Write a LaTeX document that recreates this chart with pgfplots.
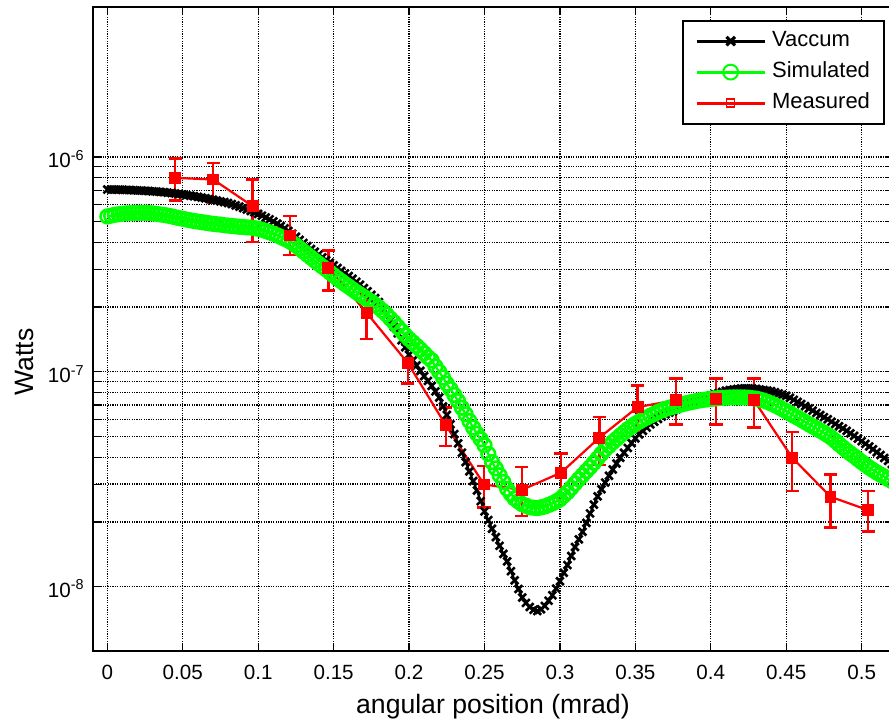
\documentclass[border=0pt]{standalone}
\usepackage{pgfplots}
\usepackage{pgfplotstable}
\pgfplotsset{compat=1.18}
\usepackage{fontspec}
\setmainfont{Liberation Sans}
\usetikzlibrary{calc}

\pgfplotstableread{
x y
0.0000 7.05e-7
0.0025 7.05e-7
0.0050 7.05e-7
0.0075 7.04e-7
0.0100 7.03e-7
0.0125 7.02e-7
0.0150 7.01e-7
0.0175 7.00e-7
0.0200 6.98e-7
0.0225 6.97e-7
0.0250 6.95e-7
0.0275 6.94e-7
0.0300 6.92e-7
0.0325 6.90e-7
0.0350 6.88e-7
0.0375 6.85e-7
0.0400 6.82e-7
0.0425 6.79e-7
0.0450 6.76e-7
0.0475 6.72e-7
0.0500 6.68e-7
0.0525 6.64e-7
0.0550 6.60e-7
0.0575 6.56e-7
0.0600 6.52e-7
0.0625 6.47e-7
0.0650 6.42e-7
0.0675 6.37e-7
0.0700 6.32e-7
0.0725 6.27e-7
0.0750 6.21e-7
0.0775 6.16e-7
0.0800 6.10e-7
0.0825 6.03e-7
0.0850 5.95e-7
0.0875 5.87e-7
0.0900 5.78e-7
0.0925 5.69e-7
0.0950 5.60e-7
0.0975 5.52e-7
0.1000 5.43e-7
0.1025 5.33e-7
0.1050 5.22e-7
0.1075 5.12e-7
0.1100 5.01e-7
0.1125 4.89e-7
0.1150 4.77e-7
0.1175 4.65e-7
0.1200 4.52e-7
0.1225 4.39e-7
0.1250 4.25e-7
0.1275 4.11e-7
0.1300 3.98e-7
0.1325 3.85e-7
0.1350 3.73e-7
0.1375 3.62e-7
0.1400 3.51e-7
0.1425 3.41e-7
0.1450 3.31e-7
0.1475 3.22e-7
0.1500 3.13e-7
0.1525 3.04e-7
0.1550 2.95e-7
0.1575 2.87e-7
0.1600 2.79e-7
0.1625 2.71e-7
0.1650 2.62e-7
0.1675 2.54e-7
0.1700 2.45e-7
0.1725 2.37e-7
0.1750 2.28e-7
0.1775 2.20e-7
0.1800 2.11e-7
0.1825 1.98e-7
0.1850 1.85e-7
0.1875 1.73e-7
0.1900 1.62e-7
0.1925 1.51e-7
0.1950 1.40e-7
0.1975 1.30e-7
0.2000 1.20e-7
0.2025 1.13e-7
0.2050 1.07e-7
0.2075 1.01e-7
0.2100 0.955e-7
0.2125 0.906e-7
0.2150 0.860e-7
0.2175 0.810e-7
0.2200 0.759e-7
0.2225 0.690e-7
0.2250 0.630e-7
0.2275 0.570e-7
0.2300 0.513e-7
0.2325 0.464e-7
0.2350 0.420e-7
0.2375 0.380e-7
0.2400 0.344e-7
0.2425 0.310e-7
0.2450 0.280e-7
0.2475 0.250e-7
0.2500 0.224e-7
0.2525 0.204e-7
0.2550 0.186e-7
0.2575 0.170e-7
0.2600 0.155e-7
0.2625 0.142e-7
0.2650 0.131e-7
0.2675 0.118e-7
0.2700 0.107e-7
0.2725 0.0975e-7
0.2750 0.0890e-7
0.2775 0.0840e-7
0.2800 0.0804e-7
0.2825 0.0780e-7
0.2850 0.0770e-7
0.2875 0.0785e-7
0.2900 0.0813e-7
0.2925 0.0860e-7
0.2950 0.0912e-7
0.2975 0.0980e-7
0.3000 0.106e-7
0.3025 0.116e-7
0.3050 0.126e-7
0.3075 0.139e-7
0.3100 0.153e-7
0.3125 0.166e-7
0.3150 0.180e-7
0.3175 0.198e-7
0.3200 0.219e-7
0.3225 0.241e-7
0.3250 0.263e-7
0.3275 0.284e-7
0.3300 0.305e-7
0.3325 0.328e-7
0.3350 0.351e-7
0.3375 0.374e-7
0.3400 0.398e-7
0.3425 0.420e-7
0.3450 0.442e-7
0.3475 0.466e-7
0.3500 0.490e-7
0.3525 0.511e-7
0.3550 0.531e-7
0.3575 0.550e-7
0.3600 0.569e-7
0.3625 0.586e-7
0.3650 0.603e-7
0.3675 0.619e-7
0.3700 0.634e-7
0.3725 0.645e-7
0.3750 0.655e-7
0.3775 0.670e-7
0.3800 0.684e-7
0.3825 0.695e-7
0.3850 0.705e-7
0.3875 0.717e-7
0.3900 0.729e-7
0.3925 0.740e-7
0.3950 0.750e-7
0.3975 0.763e-7
0.4000 0.776e-7
0.4025 0.786e-7
0.4050 0.795e-7
0.4075 0.806e-7
0.4100 0.817e-7
0.4125 0.822e-7
0.4150 0.827e-7
0.4175 0.832e-7
0.4200 0.836e-7
0.4225 0.837e-7
0.4250 0.837e-7
0.4275 0.835e-7
0.4300 0.832e-7
0.4325 0.827e-7
0.4350 0.822e-7
0.4375 0.818e-7
0.4400 0.813e-7
0.4425 0.803e-7
0.4450 0.793e-7
0.4475 0.783e-7
0.4500 0.773e-7
0.4525 0.757e-7
0.4550 0.740e-7
0.4575 0.724e-7
0.4600 0.708e-7
0.4625 0.692e-7
0.4650 0.675e-7
0.4675 0.659e-7
0.4700 0.643e-7
0.4725 0.629e-7
0.4750 0.615e-7
0.4775 0.601e-7
0.4800 0.586e-7
0.4825 0.572e-7
0.4850 0.558e-7
0.4875 0.545e-7
0.4900 0.531e-7
0.4925 0.517e-7
0.4950 0.503e-7
0.4975 0.489e-7
0.5000 0.475e-7
0.5025 0.462e-7
0.5050 0.449e-7
0.5075 0.436e-7
0.5100 0.422e-7
0.5125 0.410e-7
0.5150 0.397e-7
0.5175 0.385e-7
0.5200 0.372e-7
}\vacuum

\pgfplotstableread{
x y
0.0000 5.28e-7
0.0025 5.33e-7
0.0050 5.38e-7
0.0075 5.41e-7
0.0100 5.44e-7
0.0125 5.46e-7
0.0150 5.47e-7
0.0175 5.48e-7
0.0200 5.49e-7
0.0225 5.49e-7
0.0250 5.49e-7
0.0275 5.48e-7
0.0300 5.46e-7
0.0325 5.43e-7
0.0350 5.40e-7
0.0375 5.37e-7
0.0400 5.33e-7
0.0425 5.29e-7
0.0450 5.24e-7
0.0475 5.19e-7
0.0500 5.15e-7
0.0525 5.11e-7
0.0550 5.07e-7
0.0575 5.03e-7
0.0600 5.00e-7
0.0625 4.97e-7
0.0650 4.94e-7
0.0675 4.91e-7
0.0700 4.88e-7
0.0725 4.86e-7
0.0750 4.84e-7
0.0775 4.81e-7
0.0800 4.79e-7
0.0825 4.77e-7
0.0850 4.75e-7
0.0875 4.73e-7
0.0900 4.72e-7
0.0925 4.70e-7
0.0950 4.69e-7
0.0975 4.66e-7
0.1000 4.63e-7
0.1025 4.58e-7
0.1050 4.52e-7
0.1075 4.46e-7
0.1100 4.39e-7
0.1125 4.32e-7
0.1150 4.24e-7
0.1175 4.16e-7
0.1200 4.08e-7
0.1225 3.98e-7
0.1250 3.87e-7
0.1275 3.75e-7
0.1300 3.63e-7
0.1325 3.51e-7
0.1350 3.40e-7
0.1375 3.29e-7
0.1400 3.19e-7
0.1425 3.09e-7
0.1450 3.00e-7
0.1475 2.90e-7
0.1500 2.81e-7
0.1525 2.72e-7
0.1550 2.64e-7
0.1575 2.56e-7
0.1600 2.49e-7
0.1625 2.42e-7
0.1650 2.35e-7
0.1675 2.29e-7
0.1700 2.23e-7
0.1725 2.17e-7
0.1750 2.12e-7
0.1775 2.05e-7
0.1800 1.99e-7
0.1825 1.92e-7
0.1850 1.85e-7
0.1875 1.77e-7
0.1900 1.70e-7
0.1925 1.62e-7
0.1950 1.55e-7
0.1975 1.48e-7
0.2000 1.42e-7
0.2025 1.37e-7
0.2050 1.32e-7
0.2075 1.27e-7
0.2100 1.22e-7
0.2125 1.17e-7
0.2150 1.13e-7
0.2175 1.06e-7
0.2200 1.00e-7
0.2225 0.940e-7
0.2250 0.880e-7
0.2275 0.830e-7
0.2300 0.780e-7
0.2325 0.730e-7
0.2350 0.680e-7
0.2375 0.635e-7
0.2400 0.590e-7
0.2425 0.550e-7
0.2450 0.515e-7
0.2475 0.485e-7
0.2500 0.455e-7
0.2525 0.415e-7
0.2550 0.380e-7
0.2575 0.355e-7
0.2600 0.330e-7
0.2625 0.307e-7
0.2650 0.285e-7
0.2675 0.270e-7
0.2700 0.257e-7
0.2725 0.249e-7
0.2750 0.242e-7
0.2775 0.238e-7
0.2800 0.234e-7
0.2825 0.233e-7
0.2850 0.232e-7
0.2875 0.234e-7
0.2900 0.236e-7
0.2925 0.240e-7
0.2950 0.244e-7
0.2975 0.249e-7
0.3000 0.255e-7
0.3025 0.265e-7
0.3050 0.275e-7
0.3075 0.288e-7
0.3100 0.302e-7
0.3125 0.316e-7
0.3150 0.330e-7
0.3175 0.345e-7
0.3200 0.360e-7
0.3225 0.377e-7
0.3250 0.395e-7
0.3275 0.415e-7
0.3300 0.435e-7
0.3325 0.452e-7
0.3350 0.470e-7
0.3375 0.487e-7
0.3400 0.505e-7
0.3425 0.522e-7
0.3450 0.540e-7
0.3475 0.556e-7
0.3500 0.572e-7
0.3525 0.586e-7
0.3550 0.600e-7
0.3575 0.612e-7
0.3600 0.625e-7
0.3625 0.637e-7
0.3650 0.650e-7
0.3675 0.661e-7
0.3700 0.672e-7
0.3725 0.680e-7
0.3750 0.688e-7
0.3775 0.695e-7
0.3800 0.703e-7
0.3825 0.710e-7
0.3850 0.717e-7
0.3875 0.723e-7
0.3900 0.730e-7
0.3925 0.735e-7
0.3950 0.740e-7
0.3975 0.744e-7
0.4000 0.748e-7
0.4025 0.751e-7
0.4050 0.754e-7
0.4075 0.756e-7
0.4100 0.758e-7
0.4125 0.759e-7
0.4150 0.760e-7
0.4175 0.760e-7
0.4200 0.760e-7
0.4225 0.759e-7
0.4250 0.758e-7
0.4275 0.754e-7
0.4300 0.750e-7
0.4325 0.743e-7
0.4350 0.735e-7
0.4375 0.724e-7
0.4400 0.712e-7
0.4425 0.699e-7
0.4450 0.685e-7
0.4475 0.670e-7
0.4500 0.655e-7
0.4525 0.640e-7
0.4550 0.625e-7
0.4575 0.612e-7
0.4600 0.598e-7
0.4625 0.584e-7
0.4650 0.570e-7
0.4675 0.557e-7
0.4700 0.545e-7
0.4725 0.532e-7
0.4750 0.520e-7
0.4775 0.507e-7
0.4800 0.493e-7
0.4825 0.477e-7
0.4850 0.460e-7
0.4875 0.445e-7
0.4900 0.430e-7
0.4925 0.417e-7
0.4950 0.405e-7
0.4975 0.392e-7
0.5000 0.380e-7
0.5025 0.369e-7
0.5050 0.358e-7
0.5075 0.349e-7
0.5100 0.340e-7
0.5125 0.332e-7
0.5150 0.325e-7
0.5175 0.317e-7
0.5200 0.310e-7
}\simulated

\pgfplotstableread{
x y ep em
0.0450 7.99e-7 1.84e-7 1.72e-7
0.0702 7.85e-7 1.53e-7 1.70e-7
0.0963 5.90e-7 1.95e-7 1.88e-7
0.1211 4.31e-7 0.99e-7 0.82e-7
0.1465 3.05e-7 0.62e-7 0.66e-7
0.1719 1.88e-7 0.41e-7 0.46e-7
0.1991 1.10e-7 0.24e-7 0.22e-7
0.2243 5.65e-8 1.15e-8 1.14e-8
0.2497 2.99e-8 0.65e-8 0.66e-8
0.2747 2.82e-8 0.78e-8 0.69e-8
0.3007 3.39e-8 0.78e-8 0.80e-8
0.3261 4.93e-8 1.23e-8 1.25e-8
0.3515 6.85e-8 1.79e-8 1.51e-8
0.3769 7.38e-8 1.90e-8 1.69e-8
0.4034 7.45e-8 1.83e-8 1.76e-8
0.4286 7.38e-8 1.90e-8 1.88e-8
0.4540 3.98e-8 1.26e-8 1.19e-8
0.4794 2.62e-8 0.71e-8 0.74e-8
0.5043 2.27e-8 0.52e-8 0.47e-8
}\measured

\begin{document}
\begin{tikzpicture}
\begin{axis}[
  scale only axis,
  width=399.65pt, height=322.3pt,
  ymode=log,
  xmin=-0.0093, xmax=0.5205,
  ymin=5e-9, ymax=5e-6,
  xtick={0,0.05,0.1,0.15,0.2,0.25,0.3,0.35,0.4,0.45,0.5},
  xticklabels={0,0.05,0.1,0.15,0.2,0.25,0.3,0.35,0.4,0.45,0.5},
  ytick={1e-8,1e-7,1e-6},
  yticklabels={10\textsuperscript{-8},10\textsuperscript{-7},10\textsuperscript{-6}},
  tick pos=both,
  tick align=inside,
  major tick length=4pt, minor tick length=3.5pt,
  tick style={black, line width=0.6pt},
  axis line style={black, line width=1pt},
  xmajorgrids, ymajorgrids, yminorgrids,
  major grid style={black, line width=0.65pt, dash pattern=on 0.6pt off 0.6pt},
  minor grid style={black, line width=0.65pt, dash pattern=on 0.6pt off 0.6pt},
  tick label style={font=\fontsize{10.3}{12}\selectfont},
  xticklabel style={yshift=-3.5pt},
  yticklabel style={xshift=-0.8pt, yshift=-1pt},
  xlabel={angular position (mrad)},
  ylabel={Watts},
  label style={font=\fontsize{13.3}{16}\selectfont},
  xlabel style={at={(axis description cs:0.5,0)}, anchor=base, yshift=-31pt},
  ylabel style={at={(axis description cs:-0.0751,0.449)}, anchor=base, rotate=0},
  legend style={at={(0.9905,0.980)}, anchor=north east,
    font=\fontsize{11}{13}\selectfont,
    draw=black, line width=1pt, fill=white,
    inner xsep=6pt, inner ysep=4pt,
    row sep=3pt, column sep=2pt,
    nodes={inner sep=1pt, text height=8pt, text depth=2.5pt},
    cells={anchor=west}},
  legend image code/.code={\draw[mark repeat=2,mark phase=2,#1] plot coordinates {(0pt,0pt) (17pt,0pt) (34pt,0pt)};},
]
\addlegendimage{black, line width=1.5pt, mark=x, mark size=3pt, mark options={line width=1.6pt}}
\addlegendentry{Vaccum}
\addlegendimage{green, line width=1.5pt, mark=o, mark size=3.7pt, mark options={line width=1pt, fill=none}}
\addlegendentry{Simulated}
\addlegendimage{red, line width=1.5pt, mark=square, mark size=2pt, mark options={line width=0.7pt, fill=none}}
\addlegendentry{Measured}

\addplot[black, line width=1.1pt, mark=x, mark size=2.7pt, mark options={line width=1.3pt}, forget plot] table[x=x,y=y]{\vacuum};
\addplot[green, line width=1.1pt, mark=o, mark size=3.4pt, mark options={line width=1.3pt}, forget plot] table[x=x,y=y]{\simulated};
\addplot[red, line width=1.1pt, mark=square*, mark size=2.4pt, forget plot,
  error bars/.cd, y dir=both, y explicit,
  error bar style={red, line width=1.2pt},
  error mark options={red, rotate=90, mark size=3.3pt, line width=1.3pt}]
  table[x=x,y=y,y error plus=ep,y error minus=em]{\measured};
\end{axis}
\pgfresetboundingbox
\path ($(current axis.south west)+(-46.65pt,-35.85pt)$) rectangle ($(current axis.north east)+(-1.8pt,3.35pt)$);
\end{tikzpicture}
\end{document}
